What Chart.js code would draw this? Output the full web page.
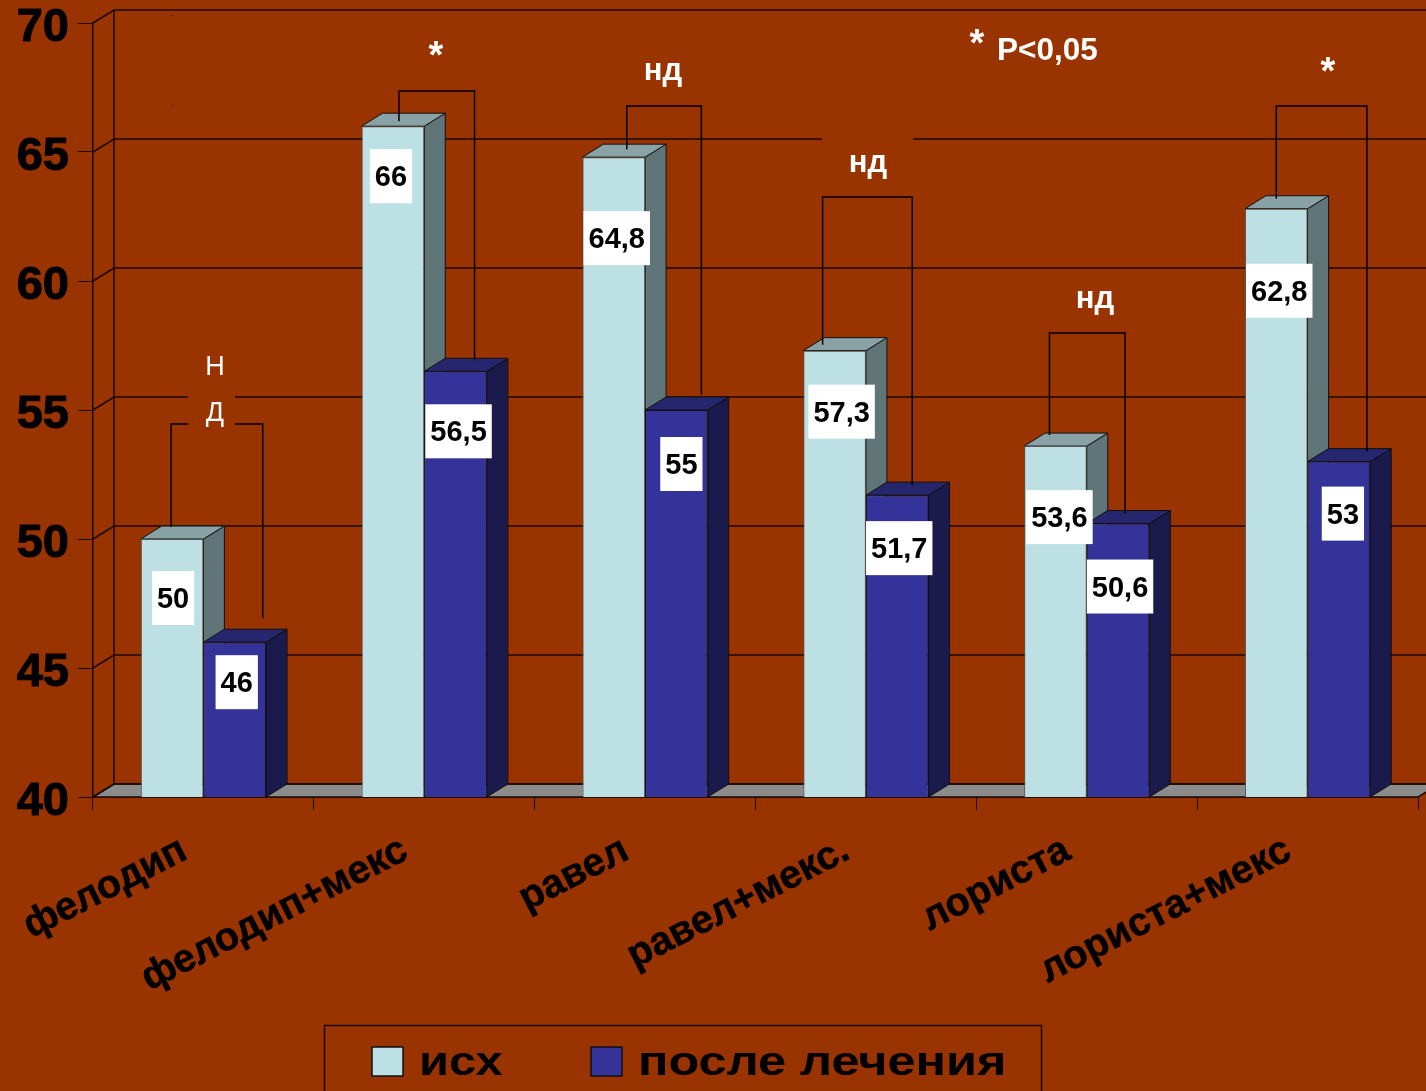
<!DOCTYPE html>
<html>
<head>
<meta charset="utf-8">
<style>
  body { margin: 0; background: #993300; overflow: hidden; }
  canvas { display: block; }
</style>
<script src="https://cdn.jsdelivr.net/npm/chart.js@4"></script>
</head>
<body>
<canvas id="myChart" width="1426" height="1091"></canvas>
<script>
const categories = ["фелодип", "фелодип+мекс", "равел", "равел+мекс.", "лориста", "лориста+мекс"];
const before = [50, 66, 64.8, 57.3, 53.6, 62.8];
const after = [46, 56.5, 55, 51.7, 50.6, 53];
const yTicks = [40, 45, 50, 55, 60, 65, 70];

// top of each significance bracket, in axis units
const bracketTop = [54.46, 67.36, 66.78, 63.26, 57.98, 66.78];

// hand placement of the value boxes and brackets, in px relative to the bars
const beforeLabelDrop = [59, 50, 81, 61, 71, 82];
const afterLabelDrop = [40, 60, 54, 53, 63, 52];
const beforeLabelShift = [1, -2, 3, 7, 4, 3];
const afterLabelShift = [2, 3, 5, 2, 2, 4];
const bracketLeft = [-1, 6, 13, -12, -6, 0];
const bracketRight = [28, 19, 25, 15, 7, 28];
const footLeft = [12, 5, 8, 6, 11, 10];
const footRight = [24, 11, 15, 10, 10, 10];

const DEPTH_X = 21;
const DEPTH_Y = 13;
const BG = "#993300";
const LINE = "#1a0a00";

const faceColors = [
  { side: "#5f7578", top: "#88a2a6" },
  { side: "#1a1a4d", top: "#26266e" },
];

const poly = (ctx, pts, fill) => {
  ctx.beginPath();
  pts.forEach((p, i) => (i ? ctx.lineTo(p[0], p[1]) : ctx.moveTo(p[0], p[1])));
  ctx.closePath();
  ctx.fillStyle = fill;
  ctx.fill();
  ctx.stroke();
};

const backdrop = {
  id: "backdrop",
  beforeDatasetsDraw(chart) {
    const { ctx, chartArea: a, scales } = chart;
    const y = scales.y;
    ctx.save();
    ctx.strokeStyle = LINE;
    ctx.lineWidth = 1.5;

    // grey floor
    poly(ctx, [
      [a.left, a.bottom],
      [a.left + DEPTH_X, a.bottom - DEPTH_Y],
      [a.right + DEPTH_X, a.bottom - DEPTH_Y],
      [a.right, a.bottom],
    ], "#8c8c8c");

    // back wall grid, with the slanted piece on the left wall
    yTicks.forEach((v) => {
      const py = y.getPixelForValue(v);
      ctx.beginPath();
      ctx.moveTo(a.left, py);
      ctx.lineTo(a.left + DEPTH_X, py - DEPTH_Y);
      ctx.lineTo(chart.width + 5, py - DEPTH_Y);
      ctx.stroke();
    });
    ctx.beginPath();
    ctx.moveTo(a.left + DEPTH_X, a.top - DEPTH_Y);
    ctx.lineTo(a.left + DEPTH_X, a.bottom - DEPTH_Y);
    ctx.stroke();

    // side and top faces of the bars
    ctx.lineWidth = 1;
    ctx.strokeStyle = "#111";
    chart.data.datasets.forEach((ds, d) => {
      chart.getDatasetMeta(d).data.forEach((bar) => {
        const l = bar.x - bar.width / 2;
        const r = bar.x + bar.width / 2;
        poly(ctx, [
          [r, bar.y],
          [r + DEPTH_X, bar.y - DEPTH_Y],
          [r + DEPTH_X, a.bottom - DEPTH_Y],
          [r, a.bottom],
        ], faceColors[d].side);
        poly(ctx, [
          [l, bar.y],
          [l + DEPTH_X, bar.y - DEPTH_Y],
          [r + DEPTH_X, bar.y - DEPTH_Y],
          [r, bar.y],
        ], faceColors[d].top);
      });
    });
    ctx.restore();
  },
};

const annotations = {
  id: "annotations",
  afterDatasetsDraw(chart) {
    const { ctx, scales } = chart;
    const first = chart.getDatasetMeta(0).data;
    const second = chart.getDatasetMeta(1).data;
    ctx.save();

    // brackets between the two bars of a group
    ctx.strokeStyle = "#000";
    ctx.lineWidth = 1.5;
    bracketTop.forEach((v, i) => {
      const top = scales.y.getPixelForValue(v);
      ctx.beginPath();
      ctx.moveTo(first[i].x + bracketLeft[i], first[i].y - footLeft[i]);
      ctx.lineTo(first[i].x + bracketLeft[i], top);
      ctx.lineTo(second[i].x + bracketRight[i], top);
      ctx.lineTo(second[i].x + bracketRight[i], second[i].y - footRight[i]);
      ctx.stroke();
    });

    // the white captions sit on boxes of background colour that cut the lines
    ctx.fillStyle = BG;
    ctx.fillRect(188, 388, 47, 40);
    ctx.fillRect(822, 125, 91, 20);

    ctx.textAlign = "center";
    ctx.textBaseline = "middle";
    ctx.fillStyle = "#fff";
    ctx.font = "27px 'Liberation Sans'";
    ctx.fillText("Н", 215, 368);
    ctx.fillText("Д", 215, 414);
    ctx.font = "bold 31px 'Liberation Sans'";
    ctx.fillText("нд", 663, 71);
    ctx.fillText("нд", 868, 163);
    ctx.fillText("нд", 1095, 299);
    ctx.font = "bold 38px 'Liberation Sans'";
    ctx.fillText("*", 436, 58);
    ctx.fillText("*", 1328, 74);
    ctx.fillText("*", 977, 46);
    ctx.font = "bold 31.5px 'Liberation Sans'";
    ctx.textAlign = "left";
    ctx.fillText("P<0,05", 997, 51);

    // stray specks from the source picture
    ctx.fillStyle = "#000";
    ctx.fillRect(172, 15, 1, 1);
    ctx.fillRect(172, 105, 1, 1);

    // value boxes
    ctx.font = "bold 29px 'Liberation Sans'";
    ctx.textAlign = "center";
    const drawValues = (bars, values, drop, shift) => {
      bars.forEach((bar, i) => {
        const text = String(values[i]).replace(".", ",");
        const w = ctx.measureText(text).width + 10;
        const cx = bar.x + shift[i];
        const cy = bar.y + drop[i];
        ctx.fillStyle = "#fff";
        ctx.fillRect(cx - w / 2, cy - 27, w, 54);
        ctx.fillStyle = "#000";
        ctx.fillText(text, cx, cy + 2);
      });
    };
    drawValues(first, before, beforeLabelDrop, beforeLabelShift);
    drawValues(second, after, afterLabelDrop, afterLabelShift);

    // legend box runs off the bottom of the picture
    ctx.strokeStyle = LINE;
    ctx.lineWidth = 1.5;
    ctx.strokeRect(324.5, 1025.5, 717, 100);
    const legendX = [372, 591];
    const legendStretch = [1.19, 1.23];
    chart.data.datasets.forEach((ds, d) => {
      ctx.fillStyle = ds.backgroundColor;
      ctx.strokeStyle = "#111";
      ctx.fillRect(legendX[d], 1047, 31, 29);
      ctx.strokeRect(legendX[d], 1047, 31, 29);
      ctx.save();
      ctx.translate(legendX[d] + 47, 1064);
      ctx.scale(legendStretch[d], 1);
      ctx.font = "bold 41px 'Liberation Sans'";
      ctx.textAlign = "left";
      ctx.fillStyle = "#000";
      ctx.fillText(ds.label, 0, 0);
      ctx.restore();
    });
    ctx.restore();
  },
};

const data = {
  labels: categories,
  datasets: [
    {
      label: "исх",
      data: before,
      backgroundColor: "#bce0e4",
      borderColor: "#555",
      borderWidth: 1,
    },
    {
      label: "после лечения",
      data: after,
      backgroundColor: "#333399",
      borderColor: "#111",
      borderWidth: 1,
    },
  ],
};

const config = {
  type: "bar",
  data: data,
  plugins: [backdrop, annotations],
  options: {
    responsive: false,
    animation: false,
    devicePixelRatio: 1,
    layout: { padding: { top: 23, right: 8, left: 0, bottom: 0 } },
    datasets: {
      bar: { barPercentage: 1, categoryPercentage: 0.567 },
    },
    scales: {
      x: {
        afterFit: (scale) => {
          scale.height = 294;
          scale.paddingLeft = 0;
          scale.paddingRight = 0;
        },
        grid: { offset: true, drawOnChartArea: false, color: LINE, tickLength: 13 },
        border: { color: LINE, width: 1.5 },
        ticks: {
          minRotation: 27,
          maxRotation: 27,
          padding: 17,
          labelOffset: -19,
          color: "#000",
          textStrokeColor: "#000",
          textStrokeWidth: 0.5,
          font: { family: "'Liberation Sans'", size: 39.5, weight: "bold" },
        },
      },
      y: {
        min: 40,
        max: 70,
        afterFit: (scale) => {
          scale.width = 93;
          scale.paddingTop = 0;
          scale.paddingBottom = 0;
        },
        afterBuildTicks: (scale) => {
          scale.ticks = yTicks.map((value) => ({ value }));
        },
        grid: { drawOnChartArea: false, color: LINE, tickLength: 15 },
        border: { color: LINE, width: 1.5 },
        ticks: {
          padding: 9,
          labelOffset: 5,
          color: "#000",
          textStrokeColor: "#000",
          textStrokeWidth: 1,
          font: { family: "'Liberation Sans'", size: 47, weight: "bold" },
        },
      },
    },
    plugins: {
      legend: { display: false },
      tooltip: { enabled: false },
    },
  },
};

const ctx = document.getElementById("myChart").getContext("2d");
new Chart(ctx, config);
</script>
</body>
</html>
